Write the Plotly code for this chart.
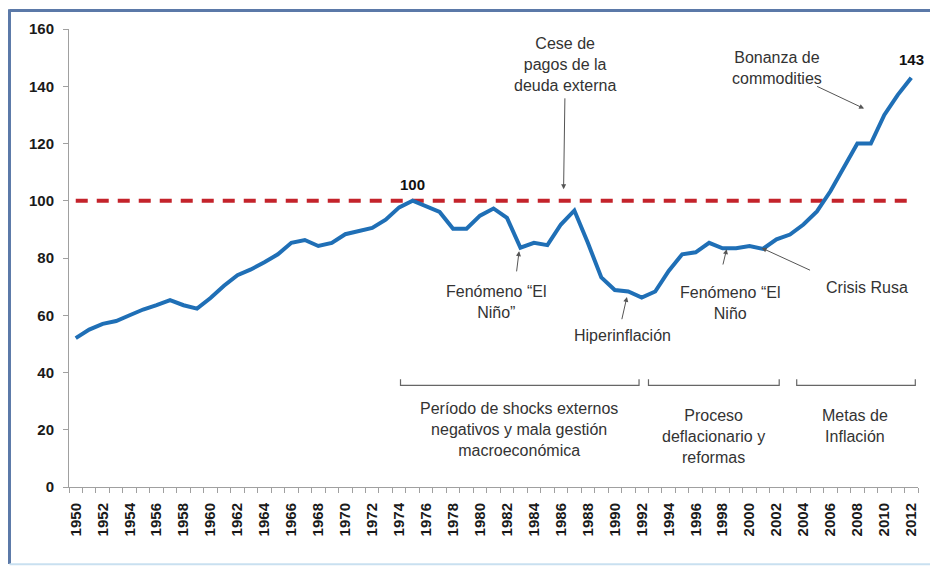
import plotly.graph_objects as go

years = list(range(1950, 2013))
index_values = [
    52, 55, 57, 58, 60, 62, 63.5, 65.3, 63.5, 62.3,
    66, 70.3, 74, 76, 78.5, 81.3, 85.3, 86.3, 84.2, 85.3,
    88.3, 89.3, 90.5, 93.4, 97.7, 100, 98, 96.1, 90.2, 90.2,
    94.8, 97.3, 94, 83.6, 85.3, 84.5, 91.7, 96.6, 85.3, 73.2,
    68.8, 68.3, 66.2, 68.3, 75.5, 81.3, 82, 85.3, 83.4, 83.4,
    84.2, 83.2, 86.5, 88.2, 91.7, 96.3, 103.3, 111.4, 120, 120,
    130, 137, 143,
]
reference_level = [100] * len(years)
tick_years = years[::2]
tick_labels = [str(y) for y in tick_years]
y_ticks = [0, 20, 40, 60, 80, 100, 120, 140, 160]

BLUE = "#1f6fb6"
RED = "#c4232b"
TXT = "#333333"
FONT = "Liberation Sans, Arial, sans-serif"

fig = go.Figure()
fig.add_trace(go.Scatter(x=years, y=reference_level, mode="lines",
                         line=dict(color=RED, width=4, dash="12px,9px"),
                         hoverinfo="skip", showlegend=False))
fig.add_trace(go.Scatter(x=years, y=index_values, mode="lines",
                         line=dict(color=BLUE, width=4),
                         showlegend=False))

ann = []
peak_i = years.index(1975)
ann.append(dict(x=years[peak_i], y=index_values[peak_i], text="<b>100</b>", showarrow=False,
                yanchor="bottom", yshift=6, font=dict(size=15, color="#111", family=FONT)))
ann.append(dict(x=years[-1], y=index_values[-1], text="<b>143</b>", showarrow=False,
                yanchor="bottom", yshift=8, font=dict(size=15, color="#111", family=FONT)))

texts = [
    ("Cese de<br>pagos de la<br>deuda externa", 1986.3, 147.5),
    ("Bonanza de<br>commodities", 2002.0, 146.4),
    ("Fenómeno \u201cEl<br>Niño\u201d", 1981.2, 64.7),
    ("Hiperinflación", 1990.6, 52.9),
    ("Fenómeno \u201cEl<br>Niño", 1998.6, 64.3),
    ("Crisis Rusa", 2008.7, 69.6),
    ("Período de shocks externos<br>negativos y mala gestión<br>macroeconómica", 1982.9, 20.0),
    ("Proceso<br>deflacionario y<br>reformas", 1997.3, 17.7),
    ("Metas de<br>Inflación", 2007.8, 21.4),
]
for t, x, y in texts:
    ann.append(dict(x=x, y=y, text=t, showarrow=False, xanchor="center", yanchor="middle",
                    align="center", font=dict(size=16, color=TXT, family=FONT)))

arrows = [
    (1986.2, 104.0, 1986.3, 136.3),
    (2008.5, 132.2, 2004.9, 140.2),
    (1982.9, 82.4, 1982.7, 74.8),
    (1990.9, 66.4, 1990.5, 58.1),
    (1998.3, 83.1, 1998.0, 77.2),
    (2000.9, 83.5, 2004.6, 75.5),
]
for hx, hy, tx, ty in arrows:
    ann.append(dict(x=hx, y=hy, ax=tx, ay=ty, axref="x", ayref="y", text="",
                    showarrow=True, arrowhead=2, arrowsize=1, arrowwidth=1,
                    arrowcolor="#555", standoff=0))

shapes = []
brackets = [(1974.1, 1991.8), (1992.5, 2002.2), (2003.5, 2012.3)]
for a, b in brackets:
    shapes.append(dict(type="path", xref="x", yref="y",
                       path=f"M {a},37.6 L {a},35.5 L {b},35.5 L {b},37.6",
                       line=dict(color="#666", width=1.2)))

# outer frame
shapes.append(dict(type="line", xref="paper", yref="paper", x0=-0.0701, x1=1.05, y0=1.0405, y1=1.0405,
                   line=dict(color="#5b79a8", width=3)))
shapes.append(dict(type="line", xref="paper", yref="paper", x0=-0.0701, x1=-0.0701, y0=1.043, y1=-0.168,
                   line=dict(color="#5b79a8", width=3)))
shapes.append(dict(type="line", xref="paper", yref="paper", x0=-0.0701, x1=1.05, y0=-0.1685, y1=-0.1685,
                   line=dict(color="#c9e0f0", width=2)))

fig.update_layout(
    width=930, height=559,
    margin=dict(l=61, r=20, t=19, b=80),
    paper_bgcolor="white", plot_bgcolor="white",
    annotations=ann, shapes=shapes,
    font=dict(family=FONT),
)
fig.update_xaxes(
    range=[1949.5, 2012.5], tickmode="array", tickvals=tick_years, ticktext=tick_labels,
    tickangle=-90, ticks="", showgrid=False, zeroline=False,
    showline=True, linecolor="#a0a0a0", linewidth=1,
    tickfont=dict(size=15, color="#1a1a1a", family="Liberation Sans, Arial", weight="bold"),
    ticklabelstandoff=9,
    minor=dict(tickmode="linear", tick0=1949.5, dtick=1, ticks="outside", ticklen=5,
               tickcolor="#a0a0a0", showgrid=False),
)
fig.update_yaxes(
    range=[0, 160], tickmode="array", tickvals=y_ticks, ticks="outside", ticklen=5,
    tickcolor="#a0a0a0", showgrid=False, zeroline=False,
    showline=True, linecolor="#a0a0a0", linewidth=1,
    tickfont=dict(size=15, color="#1a1a1a", family="Liberation Sans, Arial", weight="bold"),
    ticklabelstandoff=6,
)

fig.write_html("out.html")
